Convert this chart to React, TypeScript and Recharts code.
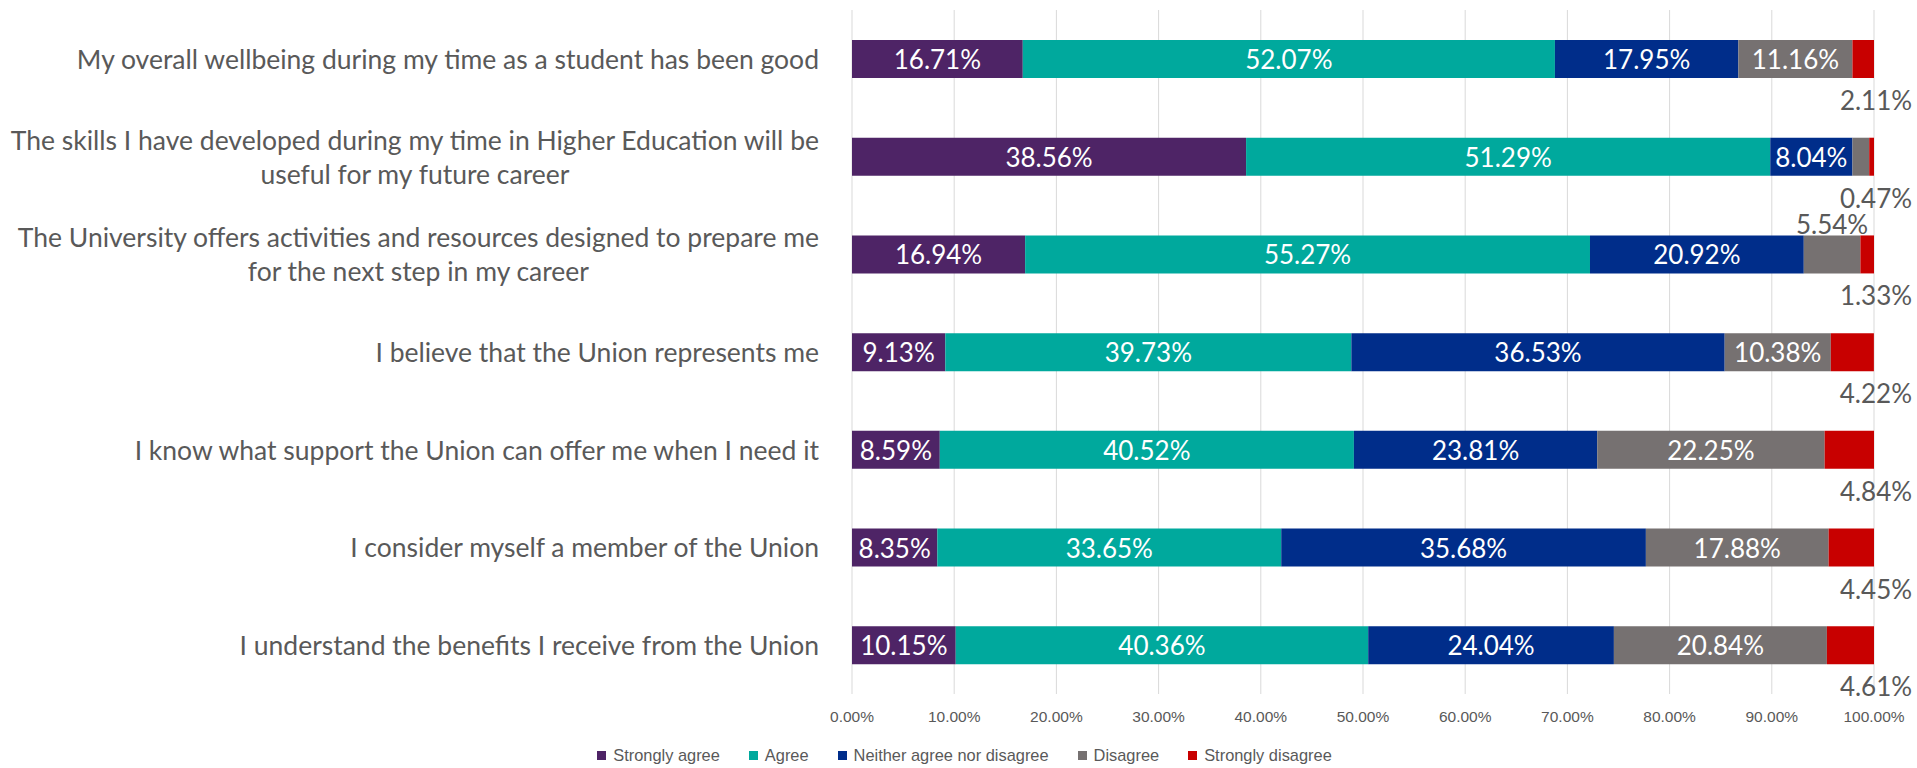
import React from 'react';
import { BarChart, Bar, XAxis, YAxis, CartesianGrid, Legend, LabelList } from 'recharts';

const categories = [
  'My overall wellbeing during my time as a student has been good',
  'The skills I have developed during my time in Higher Education will be\nuseful for my future career',
  'The University offers activities and resources designed to prepare me\nfor the next step in my career',
  'I believe that the Union represents me',
  'I know what support the Union can offer me when I need it',
  'I consider myself a member of the Union',
  'I understand the benefits I receive from the Union',
];
const stronglyAgree = [16.71, 38.56, 16.94, 9.13, 8.59, 8.35, 10.15];
const agree = [52.07, 51.29, 55.27, 39.73, 40.52, 33.65, 40.36];
const neither = [17.95, 8.04, 20.92, 36.53, 23.81, 35.68, 24.04];
const disagree = [11.16, 1.64, 5.54, 10.38, 22.25, 17.88, 20.84];
const stronglyDisagree = [2.11, 0.47, 1.33, 4.22, 4.84, 4.45, 4.61];
const xTicks = [0, 10, 20, 30, 40, 50, 60, 70, 80, 90, 100];

const seriesNames = ['Strongly agree', 'Agree', 'Neither agree nor disagree', 'Disagree', 'Strongly disagree'];
const seriesKeys = ['sa', 'a', 'n', 'd', 'sd'];
const colors = ['#4E2466', '#00A99D', '#002D8A', '#767171', '#C80000'];

const data = categories.map((name, i) => ({
  name,
  sa: stronglyAgree[i],
  a: agree[i],
  n: neither[i],
  d: disagree[i],
  sd: stronglyDisagree[i],
}));

const fmt = (v: number) => `${Number(v).toFixed(2)}%`;
const LABEL_FONT = 'Lato, "Open Sans", sans-serif';
const GREY = '#595959';

const InsideLabel = (props: any) => {
  const { x, y, width, height, value } = props;
  return (
    <text x={Number(x) + Number(width) / 2} y={Number(y) + Number(height) / 2} fill="#ffffff" textAnchor="middle"
      dominantBaseline="central" fontSize={26} fontFamily={LABEL_FONT}>{fmt(value)}</text>
  );
};

const DisagreeLabel = (props: any) => {
  const { x, y, width, value } = props;
  if (Number(value) < 2) return null;
  if (Number(width) < 70) {
    return (
      <text x={Number(x) + Number(width) / 2} y={Number(y) - 11} fill={GREY} textAnchor="middle"
        dominantBaseline="central" fontSize={26} fontFamily={LABEL_FONT}>{fmt(value)}</text>
    );
  }
  return <InsideLabel {...props} />;
};

const OutsideLabel = (props: any) => {
  const { x, y, width, height, value } = props;
  return (
    <text x={Number(x) + Number(width) + 2} y={Number(y) + Number(height) + 22} fill={GREY} textAnchor="middle"
      dominantBaseline="central" fontSize={26} fontFamily={LABEL_FONT}>{fmt(value)}</text>
  );
};

const CategoryTick = (props: any) => {
  const { x, y, payload } = props;
  const lines = String(payload.value).split('\n');
  const w = Number(x) - 33;
  return (
    <foreignObject x={0} y={Number(y) - 50} width={w} height={100}>
      <div style={{ width: w, height: 100, display: 'flex', alignItems: 'center', justifyContent: 'flex-end' }}>
        <div style={{ textAlign: 'center', fontFamily: LABEL_FONT, fontSize: 26.5, lineHeight: '34px', color: GREY, whiteSpace: 'nowrap' }}>
          {lines.map((l, i) => (<div key={i}>{l}</div>))}
        </div>
      </div>
    </foreignObject>
  );
};

const PercentTick = (props: any) => {
  const { x, y, payload } = props;
  return (
    <text x={x} y={Number(y) + 22} textAnchor="middle" dominantBaseline="central" fill={GREY}
      fontSize={15.5} fontFamily='"Liberation Sans", Arial, sans-serif'>{fmt(payload.value)}</text>
  );
};

const LegendContent = () => (
  <div style={{ height: 39, width: '100%', display: 'flex', justifyContent: 'center', alignItems: 'flex-start', paddingTop: 17, paddingLeft: 55, boxSizing: 'border-box' }}>
    {seriesNames.map((n, i) => (
      <div key={n} style={{ display: 'flex', alignItems: 'center', marginRight: i < seriesNames.length - 1 ? 29 : 0, lineHeight: '18px' }}>
        <span style={{ width: 9, height: 9, background: colors[i], display: 'inline-block', marginRight: 7 }} />
        <span style={{ fontFamily: '"Liberation Sans", Arial, sans-serif', fontSize: 16.4, color: GREY }}>{n}</span>
      </div>
    ))}
  </div>
);

export default function App() {
  return (
    <div style={{ position: 'absolute', left: 0, top: 0, width: 1917, height: 768, background: '#ffffff' }}>
      <BarChart width={1917} height={768} data={data} layout="vertical" barSize={38}
        margin={{ top: 10, right: 43, bottom: 0, left: 0 }}>
        <CartesianGrid horizontal={false} vertical={true} stroke="#d9d9d9" />
        <XAxis type="number" domain={[0, 100]} ticks={xTicks} allowDataOverflow={true} axisLine={false}
          tickLine={false} tickSize={0} tickMargin={0} height={35} tick={<PercentTick />} interval={0} />
        <YAxis type="category" dataKey="name" width={852} axisLine={false} tickLine={false} tickSize={0}
          tickMargin={0} tick={<CategoryTick />} interval={0} />
        <Legend verticalAlign="bottom" height={39} content={<LegendContent />} />
        {seriesKeys.map((k, i) => (
          <Bar key={k} dataKey={k} name={seriesNames[i]} stackId="s" fill={colors[i]} isAnimationActive={false}>
            <LabelList dataKey={k} content={i === 4 ? <OutsideLabel /> : i === 3 ? <DisagreeLabel /> : <InsideLabel />} />
          </Bar>
        ))}
      </BarChart>
    </div>
  );
}
